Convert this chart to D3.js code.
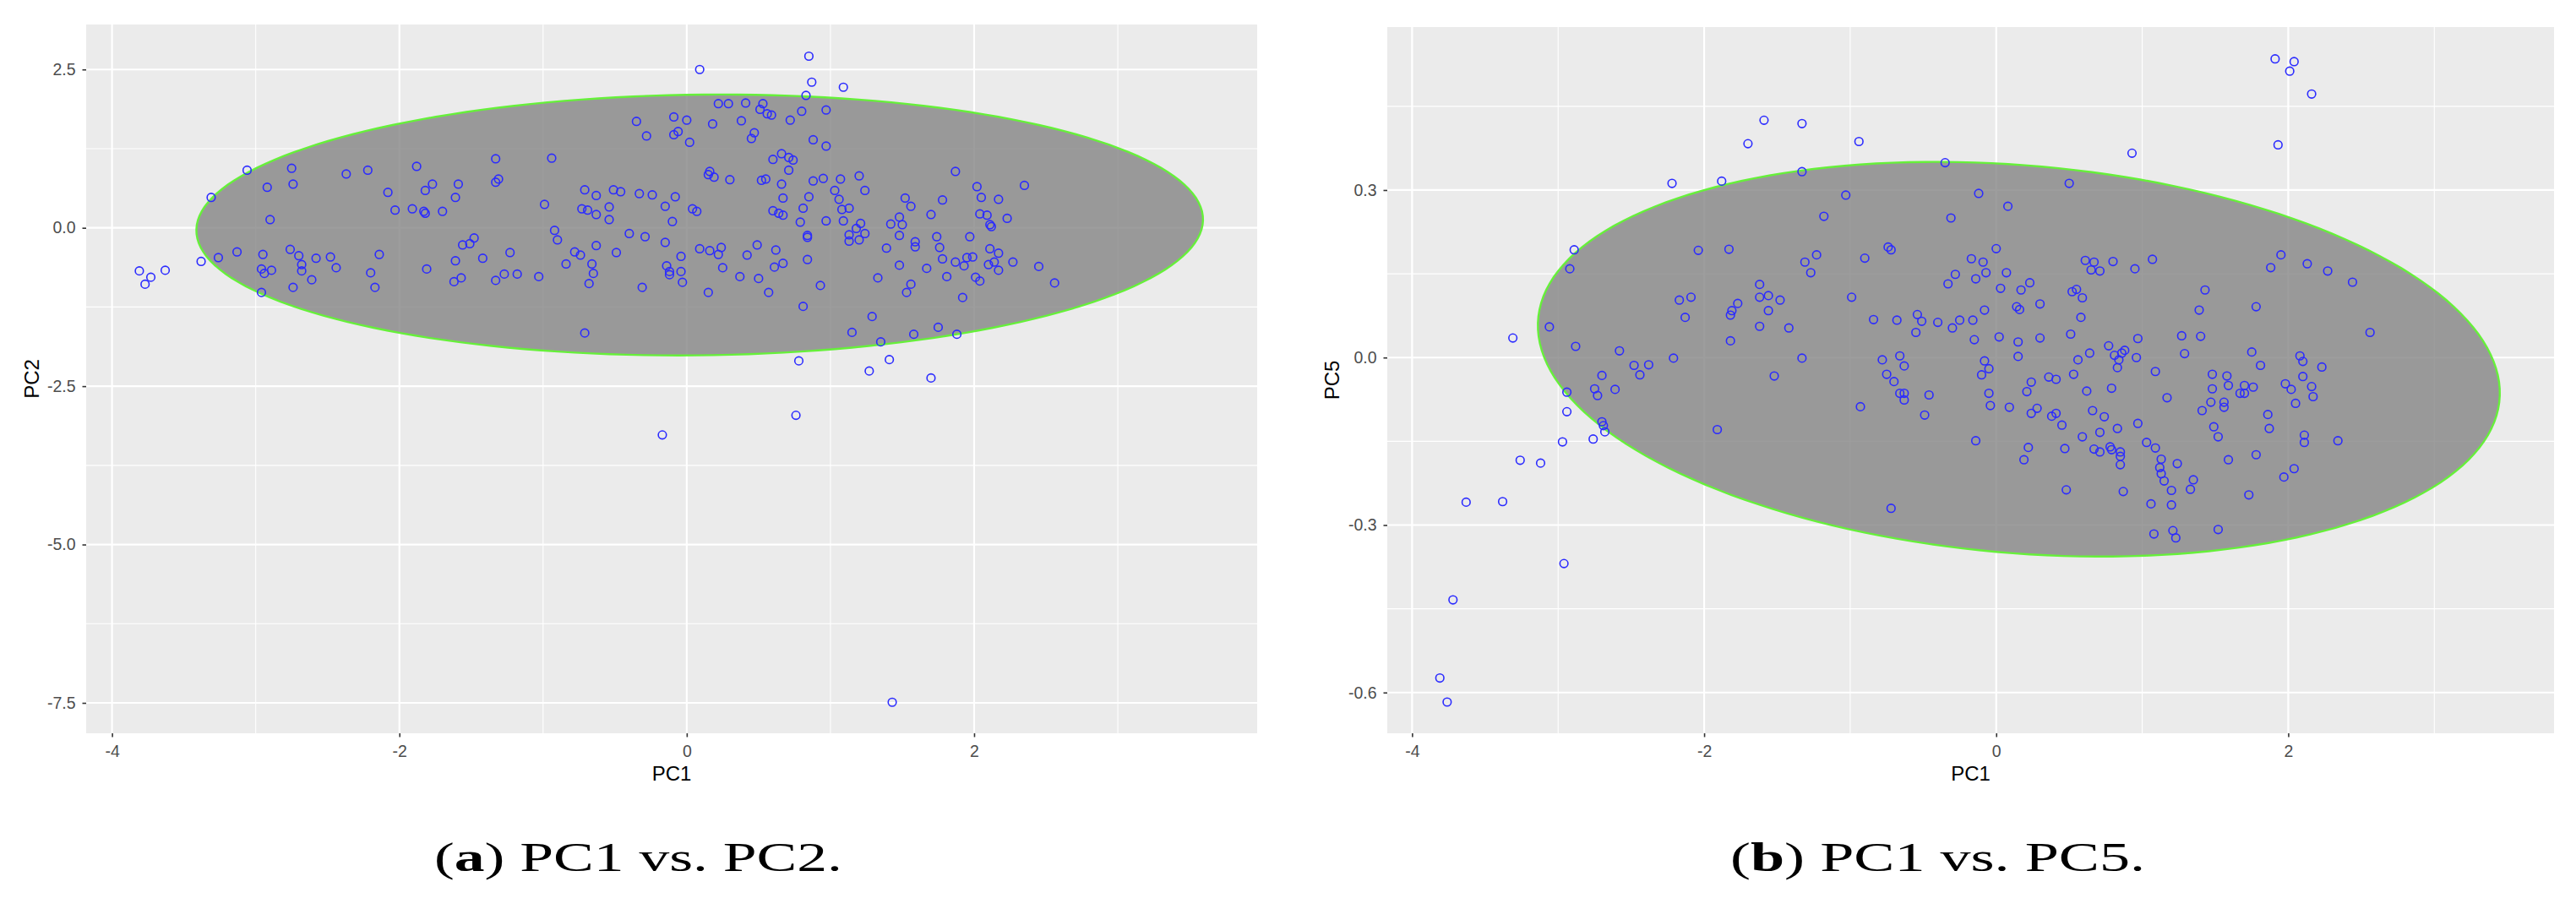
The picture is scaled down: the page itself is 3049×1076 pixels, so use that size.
<!DOCTYPE html>
<html>
<head>
<meta charset="utf-8">
<script src="https://cdn.jsdelivr.net/npm/d3@7"></script>
<style>
  body { margin: 0; background: #fff; }
  svg { display: block; }
</style>
</head>
<body>
<svg id="fig" width="3049" height="1076"></svg>
<script>
// PC1 vs PC2 scores
var pcaPoints12 = [
  [-3.81,-0.68],[-3.77,-0.89],[-3.73,-0.78],[-3.63,-0.67],[-3.38,-0.53],[-3.31,0.48],[-3.26,-0.47],[-3.13,-0.38],
  [-3.06,0.91],[-2.95,-0.42],[-2.96,-0.65],[-2.94,-0.72],[-2.89,-0.67],[-2.96,-1.02],[-2.92,0.64],[-2.90,0.13],
  [-2.75,0.94],[-2.74,0.69],[-2.76,-0.34],[-2.70,-0.44],[-2.68,-0.58],[-2.68,-0.68],[-2.74,-0.94],[-2.61,-0.82],
  [-2.58,-0.48],[-2.48,-0.46],[-2.44,-0.63],[-2.37,0.85],[-2.22,0.91],[-2.20,-0.71],[-2.17,-0.94],[-2.14,-0.42],
  [-2.08,0.56],[-2.03,0.28],[-1.91,0.30],[-1.88,0.97],[-1.83,0.26],[-1.82,0.23],[-1.82,0.59],[-1.77,0.69],
  [-1.70,0.26],[-1.81,-0.65],[-1.61,0.48],[-1.59,0.69],[-1.61,-0.52],[-1.56,-0.27],[-1.51,-0.25],[-1.48,-0.16],
  [-1.62,-0.85],[-1.57,-0.79],[-1.42,-0.48],[-1.33,1.09],[-1.33,0.72],[-1.31,0.77],[-1.33,-0.83],[-1.27,-0.73],
  [-1.23,-0.39],[-1.18,-0.73],[-1.03,-0.77],[-0.99,0.37],[-0.94,1.10],[-0.92,-0.04],[-0.90,-0.19],[-0.84,-0.57],
  [-0.78,-0.38],[-0.74,-0.43],[-0.71,0.60],[-0.73,0.30],[-0.69,0.28],[-0.63,0.21],[-0.63,0.51],[-0.66,-0.57],
  [-0.65,-0.72],[-0.68,-0.88],[-0.63,-0.28],[-0.71,-1.66],[-0.54,0.33],[-0.54,0.13],[-0.51,0.60],[-0.46,0.57],
  [-0.49,-0.39],[-0.40,-0.09],[-0.35,1.68],[-0.28,1.45],[-0.33,0.54],[-0.24,0.52],[-0.29,-0.14],[-0.15,-0.23],
  [-0.15,0.34],[-0.14,-0.60],[-0.12,-0.69],[-0.12,-0.74],[-0.31,-0.94],[-0.10,0.10],[-0.09,1.75],[-0.09,1.47],
  [-0.08,0.49],
  [0.85,2.71],[0.09,2.50],[0.87,2.30],[1.09,2.22],[0.83,2.09],[0.22,1.96],[0.29,1.96],[0.41,1.97],[0.53,1.96],
  [0.51,1.87],[0.56,1.80],[0.59,1.78],[0.72,1.70],[0.80,1.84],[0.97,1.86],[0.00,1.70],[0.18,1.64],[0.38,1.69],
  [0.47,1.50],[0.45,1.41],[-0.06,1.52],[0.02,1.35],[0.88,1.39],[0.97,1.29],[0.60,1.08],[0.66,1.17],[0.71,1.11],
  [0.74,1.07],[0.71,0.91],[0.15,0.84],[0.16,0.89],[0.19,0.80],[0.30,0.76],[0.52,0.75],[0.55,0.77],[0.66,0.69],
  [0.88,0.74],[0.95,0.78],[1.07,0.77],[1.20,0.82],[1.24,0.59],[1.03,0.59],[1.06,0.45],[0.67,0.47],[0.85,0.49],
  [0.04,0.30],[0.07,0.26],[0.60,0.27],[0.64,0.23],[0.67,0.20],[0.81,0.31],[1.08,0.29],[1.13,0.31],[0.79,0.09],
  [0.97,0.11],[1.09,0.11],[1.21,0.07],[1.18,-0.01],[1.24,-0.09],[1.13,-0.11],[1.20,-0.19],[1.13,-0.21],[0.84,-0.12],
  [0.84,-0.15],[1.87,0.89],[1.52,0.47],[1.56,0.34],[1.78,0.44],[1.70,0.21],[2.02,0.65],[2.05,0.48],[2.17,0.45],
  [2.35,0.67],[2.04,0.22],[2.09,0.20],[2.23,0.15],[2.11,0.05],[2.12,0.02],[1.48,0.17],[1.42,0.06],[1.50,0.05],
  [1.48,-0.12],[1.74,-0.14],[1.97,-0.14],[1.59,-0.22],[1.59,-0.30],[1.76,-0.31],[1.39,-0.32],[2.11,-0.33],[2.17,-0.40],
  [2.27,-0.54],[2.45,-0.61],[2.56,-0.87],[1.78,-0.49],[1.87,-0.54],[1.95,-0.47],[1.99,-0.46],[1.93,-0.60],[2.10,-0.58],
  [2.14,-0.54],[2.17,-0.67],[1.67,-0.64],[1.81,-0.77],[1.48,-0.59],[1.33,-0.79],[1.56,-0.89],[1.53,-1.02],[2.01,-0.78],
  [2.04,-0.84],[1.92,-1.10],[-0.04,-0.45],[0.09,-0.33],[0.16,-0.36],[0.22,-0.42],[0.24,-0.31],[0.42,-0.43],[0.49,-0.27],
  [0.62,-0.35],[0.67,-0.56],[0.61,-0.62],[0.84,-0.50],[-0.04,-0.69],[-0.03,-0.86],[0.25,-0.63],[0.37,-0.77],[0.50,-0.80],
  [0.15,-1.02],[0.57,-1.02],[0.93,-0.91],[0.81,-1.24],[1.29,-1.40],[1.15,-1.65],[1.35,-1.80],[1.58,-1.68],[1.75,-1.57],
  [1.88,-1.68],[0.78,-2.10],[1.27,-2.26],[1.41,-2.08],[1.70,-2.37],[0.76,-2.96],[-0.17,-3.27],[1.43,-7.49]
];

// PC1 vs PC5 scores
var pcaPoints15 = [
  [-1.59,0.425],[-1.33,0.419],[-1.70,0.383],[-0.94,0.387],[-2.22,0.312],[-1.88,0.316],[-1.33,0.333],[-1.03,0.291],
  [-1.18,0.253],[-2.89,0.193],[-2.92,0.159],[-2.04,0.192],[-1.83,0.194],[-1.31,0.171],[-1.23,0.184],[-1.27,0.152],
  [-0.90,0.178],[-0.74,0.198],[-0.72,0.193],[-1.62,0.131],[-1.62,0.108],[-1.56,0.111],[-1.48,0.103],[-1.56,0.084],
  [-2.17,0.103],[-2.09,0.108],[-2.13,0.072],[-1.77,0.097],[-1.81,0.084],[-1.82,0.076],[-1.62,0.056],[-1.42,0.053],
  [-1.82,0.030],[-0.99,0.108],[-0.84,0.068],[-0.68,0.067],[-3.06,0.055],[-3.31,0.035],[-2.88,0.020],[-2.58,0.012],
  [-2.21,-0.001],[-1.33,-0.001],[-2.48,-0.014],[-2.38,-0.013],[-2.44,-0.031],[-2.70,-0.032],[-1.52,-0.033],[-0.78,-0.004],
  [-0.66,0.003],[-0.75,-0.030],
  [1.91,0.535],[2.04,0.530],[2.01,0.513],[2.16,0.472],[1.93,0.381],[0.93,0.366],[-0.35,0.349],[0.50,0.312],
  [-0.12,0.294],[0.08,0.271],[-0.31,0.250],[0.00,0.195],[-0.17,0.177],[-0.09,0.171],[-0.28,0.149],[-0.33,0.132],
  [-0.14,0.141],[-0.07,0.152],[0.07,0.152],[0.03,0.124],[0.17,0.121],[0.23,0.134],[0.61,0.174],[0.67,0.171],
  [0.65,0.157],[0.71,0.155],[0.80,0.172],[0.95,0.159],[1.07,0.176],[0.52,0.118],[0.55,0.122],[0.59,0.107],
  [0.58,0.072],[0.30,0.096],[0.14,0.091],[0.16,0.086],[-0.08,0.085],[-0.16,0.067],[-0.25,0.067],[-0.30,0.053],
  [-0.40,0.063],[-0.51,0.065],[-0.54,0.077],[-0.55,0.045],[-0.15,0.032],[0.02,0.037],[0.15,0.028],[0.30,0.035],
  [0.51,0.042],[0.97,0.034],[1.27,0.039],[1.40,0.038],[1.43,0.121],[1.39,0.085],[1.78,0.091],[1.88,0.161],
  [1.95,0.184],[2.13,0.168],[2.27,0.155],[2.44,0.135],[2.56,0.045],[0.15,0.002],[-0.08,-0.006],[-0.05,-0.020],
  [-0.10,-0.031],[-0.63,-0.015],[0.56,-0.004],[0.64,0.008],[0.77,0.021],[0.81,0.004],[0.84,-0.004],[0.83,-0.018],
  [0.86,0.008],[0.88,0.013],[0.96,0.000],[1.09,-0.025],[1.29,0.007],[1.75,0.010],[1.81,-0.014],[2.08,0.003],
  [2.10,-0.007],[2.23,-0.017],[2.10,-0.034],[1.48,-0.030],[1.58,-0.033],[0.36,-0.035],[0.41,-0.039],[0.53,-0.030],
  [-2.94,-0.062],[-2.75,-0.056],[-2.73,-0.068],[-2.61,-0.057],[-2.94,-0.097],[-2.70,-0.115],[-2.69,-0.122],[-2.68,-0.133],
  [-2.97,-0.151],[-2.76,-0.146],[-1.91,-0.129],[-3.26,-0.184],[-3.12,-0.189],[-3.63,-0.259],[-3.38,-0.258],[-2.96,-0.369],
  [-3.72,-0.434],[-3.81,-0.574],[-3.76,-0.617],[-0.93,-0.088],[-0.72,-0.270],[-0.70,-0.043],[-0.66,-0.064],
  [-0.63,-0.064],[-0.63,-0.076],[-0.49,-0.103],[-0.46,-0.067],[-0.14,-0.149],[-0.05,-0.064],[-0.04,-0.086],[0.09,-0.089],
  [0.21,-0.061],[0.24,-0.044],[0.28,-0.091],[0.24,-0.100],[0.38,-0.105],[0.41,-0.100],[0.45,-0.121],[0.62,-0.060],
  [0.66,-0.095],[0.74,-0.106],[0.79,-0.055],[0.71,-0.134],[0.83,-0.127],[0.59,-0.142],[0.97,-0.118],[1.03,-0.152],
  [1.09,-0.162],[1.17,-0.072],[1.41,-0.095],[1.47,-0.080],[1.48,-0.056],[1.56,-0.080],[1.56,-0.089],[1.59,-0.050],
  [1.49,-0.124],[1.52,-0.142],[1.67,-0.064],[1.70,-0.064],[1.70,-0.050],[1.76,-0.053],[1.86,-0.102],[1.87,-0.127],
  [1.98,-0.047],[2.02,-0.057],[2.16,-0.052],[2.17,-0.070],[2.05,-0.082],[2.11,-0.139],[2.11,-0.152],[2.34,-0.149],
  [1.78,-0.174],[1.59,-0.183],[2.04,-0.199],[1.97,-0.214],[1.73,-0.246],[1.52,-0.308],[1.21,-0.310],[1.23,-0.323],
  [1.08,-0.316],[1.20,-0.264],[1.06,-0.262],[1.20,-0.238],[1.33,-0.236],[1.35,-0.219],[1.15,-0.221],[1.13,-0.208],
  [1.12,-0.197],[1.13,-0.182],[1.24,-0.190],[0.87,-0.240],[0.48,-0.237],[0.22,-0.161],[0.19,-0.183],[0.47,-0.163],
  [0.67,-0.164],[0.71,-0.169],[0.78,-0.160],[0.79,-0.165],[0.85,-0.169],[0.85,-0.177],[0.85,-0.192]
];

// confidence ellipses: centre and two conjugate half-axis vectors, data units
var ellipse12 = { cx: 0.09, cy: 0.045, ux: 3.5, uy: 0.0, vx: 0.146, vy: 2.06 };
var ellipse15 = { cx: 0.155, cy: -0.003, ux: 3.29, uy: -0.077, vx: 0.157, vy: 0.345 };

// axis ticks
var pc1Ticks = [-4, -2, 0, 2];
var pc1Minor = [-3, -1, 1, 3];
var pc2Ticks = [-7.5, -5, -2.5, 0, 2.5];
var pc2Minor = [-6.25, -3.75, -1.25, 1.25];
var pc5Ticks = [-0.6, -0.3, 0, 0.3];
var pc5Minor = [-0.45, -0.15, 0.15, 0.45];

var svg = d3.select("#fig");

function drawPanel(opt) {
  var x = d3.scaleLinear().domain(opt.xDomain).range([opt.left, opt.right]);
  var y = d3.scaleLinear().domain(opt.yDomain).range([opt.bottom, opt.top]);
  var g = svg.append("g");

  g.append("rect")
    .attr("x", opt.left).attr("y", opt.top)
    .attr("width", opt.right - opt.left).attr("height", opt.bottom - opt.top)
    .attr("fill", "#EBEBEB");

  // minor grid
  g.selectAll(".vmin").data(pc1Minor).enter().append("line")
    .attr("x1", d => x(d)).attr("x2", d => x(d))
    .attr("y1", opt.top).attr("y2", opt.bottom)
    .attr("stroke", "#fff").attr("stroke-width", 1.1);
  g.selectAll(".hmin").data(opt.yMinor).enter().append("line")
    .attr("y1", d => y(d)).attr("y2", d => y(d))
    .attr("x1", opt.left).attr("x2", opt.right)
    .attr("stroke", "#fff").attr("stroke-width", 1.1);
  // major grid
  g.selectAll(".vmaj").data(pc1Ticks).enter().append("line")
    .attr("x1", d => x(d)).attr("x2", d => x(d))
    .attr("y1", opt.top).attr("y2", opt.bottom)
    .attr("stroke", "#fff").attr("stroke-width", 2.2);
  g.selectAll(".hmaj").data(opt.yTicks).enter().append("line")
    .attr("y1", d => y(d)).attr("y2", d => y(d))
    .attr("x1", opt.left).attr("x2", opt.right)
    .attr("stroke", "#fff").attr("stroke-width", 2.2);

  // ellipse
  var e = opt.ellipse;
  var ts = d3.range(0, 2 * Math.PI, Math.PI / 90);
  var line = d3.line()
    .x(t => x(e.cx + e.ux * Math.cos(t) + e.vx * Math.sin(t)))
    .y(t => y(e.cy + e.uy * Math.cos(t) + e.vy * Math.sin(t)))
    .curve(d3.curveLinearClosed);
  g.append("path")
    .attr("d", line(ts))
    .attr("fill", "#858585").attr("fill-opacity", 0.8)
    .attr("stroke", "#66F03A").attr("stroke-width", 2.4);

  // points
  g.selectAll("circle").data(opt.points).enter().append("circle")
    .attr("cx", d => x(d[0])).attr("cy", d => y(d[1]))
    .attr("r", 4.8)
    .attr("fill", "none")
    .attr("stroke", "#2B2BFF").attr("stroke-width", 1.6);

  // axes
  var xa = g.append("g")
    .attr("transform", "translate(0," + opt.bottom + ")")
    .call(d3.axisBottom(x).tickValues(pc1Ticks).tickFormat(d => String(d)).tickSize(4.5).tickPadding(9.5));
  var ya = g.append("g")
    .attr("transform", "translate(" + opt.left + ",0)")
    .call(d3.axisLeft(y).tickValues(opt.yTicks).tickFormat(d => d.toFixed(1)).tickSize(4.5).tickPadding(8));
  [xa, ya].forEach(function (a) {
    a.select(".domain").remove();
    a.selectAll("line").attr("stroke", "#333").attr("stroke-width", 1.6);
    a.selectAll("text")
      .attr("fill", "#4D4D4D")
      .style("font-family", "'Liberation Sans', Arial, sans-serif")
      .style("font-size", "19.5px");
  });

  g.append("text")
    .attr("x", (opt.left + opt.right) / 2).attr("y", opt.bottom + 56)
    .attr("text-anchor", "middle")
    .style("font-family", "'Liberation Sans', Arial, sans-serif")
    .style("font-size", "24px")
    .text("PC1");
  g.append("text")
    .attr("transform", "translate(" + opt.yTitleX + "," + (opt.top + opt.bottom) / 2 + ") rotate(-90)")
    .attr("text-anchor", "middle")
    .style("font-family", "'Liberation Sans', Arial, sans-serif")
    .style("font-size", "24px")
    .text(opt.yTitle);
}

drawPanel({
  left: 102, right: 1488, top: 29, bottom: 868,
  xDomain: [-4.18, 3.97], yDomain: [-7.98, 3.21],
  yTicks: pc2Ticks, yMinor: pc2Minor,
  ellipse: ellipse12, points: pcaPoints12,
  yTitle: "PC2", yTitleX: 45.5
});

drawPanel({
  left: 1642, right: 3023, top: 32, bottom: 868,
  xDomain: [-4.17, 3.82], yDomain: [-0.673, 0.592],
  yTicks: pc5Ticks, yMinor: pc5Minor,
  ellipse: ellipse15, points: pcaPoints15,
  yTitle: "PC5", yTitleX: 1585
});

// sub-captions
function caption(x0, width, letter, rest) {
  var t = svg.append("text")
    .attr("x", x0).attr("y", 1031)
    .attr("textLength", width).attr("lengthAdjust", "spacingAndGlyphs")
    .style("font-family", "'Liberation Serif', 'Times New Roman', serif")
    .style("font-size", "48px")
    .attr("fill", "#000");
  t.append("tspan").text("(");
  t.append("tspan").style("font-weight", "bold").text(letter);
  t.append("tspan").text(")");
  t.append("tspan").text(" " + rest);
}
caption(514, 483, "a", "PC1 vs. PC2.");
caption(2048, 491, "b", "PC1 vs. PC5.");
</script>
</body>
</html>
